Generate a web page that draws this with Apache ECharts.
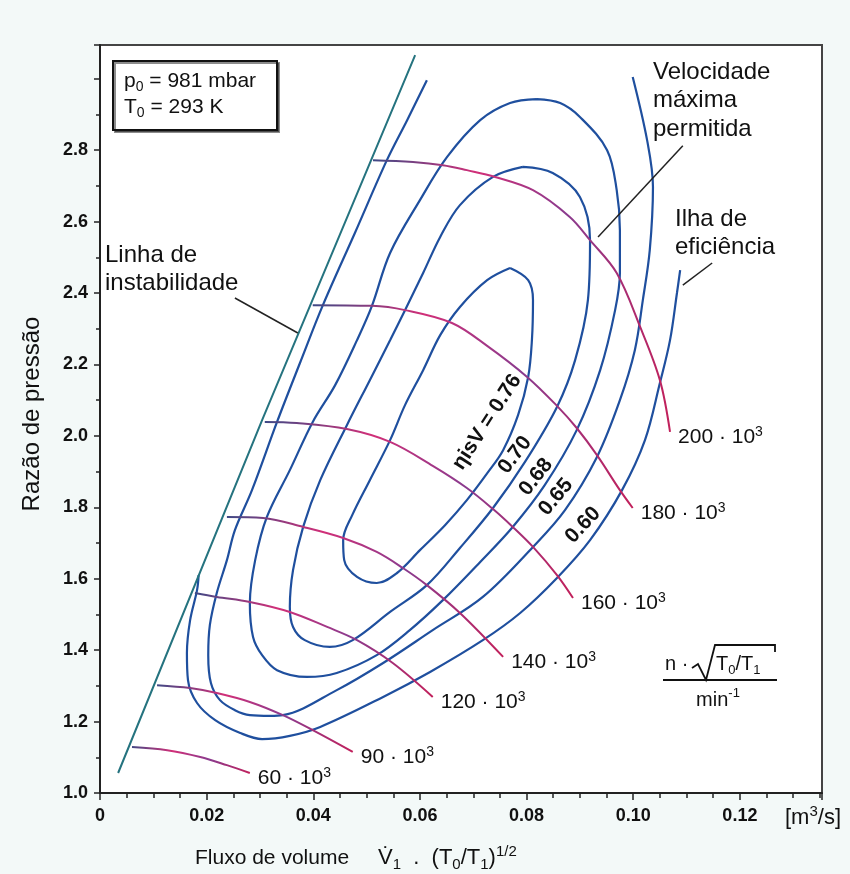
<!DOCTYPE html>
<html>
<head>
<meta charset="utf-8">
<title>Mapa do compressor</title>
<script src="https://cdn.jsdelivr.net/npm/echarts@6/dist/echarts.min.js"></script>
<style>
  html, body { margin: 0; padding: 0; background: #f3f9f8; }
  #chart { width: 850px; height: 874px; }
</style>
</head>
<body>
<div id="chart"></div>
<script>
// ticks com rótulo
const xTicks = [0, 0.02, 0.04, 0.06, 0.08, 0.10, 0.12];
const yTicks = [1.0, 1.2, 1.4, 1.6, 1.8, 2.0, 2.2, 2.4, 2.6, 2.8];

// linha de instabilidade (surge)
const surgeLine = [[0.0034, 1.056], [0.0304, 2.044], [0.0591, 3.066]];

// linhas de rotação constante  n·sqrt(T0/T1) [min-1]
const speeds = [60, 90, 120, 140, 160, 180, 200];
const n60 = [[0.0060, 1.129], [0.0126, 1.120], [0.0188, 1.101], [0.0238, 1.078], [0.0281, 1.056]];
const n90 = [[0.0107, 1.302], [0.0169, 1.294], [0.0219, 1.280], [0.0281, 1.255], [0.0343, 1.218], [0.0399, 1.176], [0.0474, 1.115]];
const n120 = [[0.0178, 1.560], [0.0219, 1.549], [0.0281, 1.535], [0.0356, 1.507], [0.0426, 1.465], [0.0482, 1.428], [0.0549, 1.364], [0.0624, 1.269]];
const n140 = [[0.0238, 1.773], [0.0306, 1.770], [0.0381, 1.745], [0.0456, 1.714], [0.0519, 1.675], [0.0568, 1.630], [0.0613, 1.582], [0.0675, 1.504], [0.0756, 1.381]];
const n160 = [[0.0309, 2.039], [0.0369, 2.036], [0.0463, 2.019], [0.0544, 1.983], [0.0624, 1.916], [0.0688, 1.854], [0.0737, 1.795], [0.0774, 1.745], [0.0812, 1.689], [0.0857, 1.610], [0.0887, 1.546]];
const n180 = [[0.0399, 2.366], [0.0510, 2.364], [0.0572, 2.352], [0.0660, 2.316], [0.0726, 2.252], [0.0801, 2.165], [0.0857, 2.084], [0.0894, 2.022], [0.0932, 1.946], [0.0975, 1.848], [0.0999, 1.798]];
const n200 = [[0.0512, 2.772], [0.0587, 2.767], [0.0643, 2.758], [0.0688, 2.744], [0.0741, 2.725], [0.0812, 2.688], [0.0881, 2.613], [0.0919, 2.548], [0.0969, 2.456], [0.1013, 2.305], [0.1050, 2.156], [0.1069, 2.011]];

// curvas de rendimento isentrópico
const eff76 = [[0.0769, 2.470], [0.0726, 2.436], [0.0675, 2.361], [0.0638, 2.282], [0.0606, 2.184], [0.0572, 2.086], [0.0544, 1.988], [0.0506, 1.876], [0.0473, 1.778], [0.0456, 1.708], [0.0458, 1.652], [0.0482, 1.605], [0.0519, 1.588], [0.0557, 1.616], [0.0600, 1.680], [0.0647, 1.750], [0.0688, 1.820], [0.0728, 1.899], [0.0756, 1.960], [0.0784, 2.058], [0.0803, 2.165], [0.0810, 2.268], [0.0812, 2.380], [0.0803, 2.436], [0.0769, 2.470]];
const eff70 = [[0.0793, 2.753], [0.0737, 2.725], [0.0675, 2.646], [0.0638, 2.557], [0.0606, 2.456], [0.0572, 2.352], [0.0544, 2.268], [0.0506, 2.156], [0.0463, 2.030], [0.0413, 1.876], [0.0381, 1.745], [0.0362, 1.624], [0.0356, 1.521], [0.0362, 1.465], [0.0384, 1.428], [0.0431, 1.409], [0.0474, 1.428], [0.0544, 1.507], [0.0613, 1.582], [0.0675, 1.686], [0.0737, 1.798], [0.0797, 1.927], [0.0857, 2.081], [0.0891, 2.212], [0.0915, 2.380], [0.0919, 2.548], [0.0900, 2.669], [0.0849, 2.736], [0.0793, 2.753]];
const eff68 = [[0.0819, 2.943], [0.0769, 2.932], [0.0713, 2.884], [0.0651, 2.781], [0.0600, 2.660], [0.0544, 2.512], [0.0510, 2.364], [0.0482, 2.268], [0.0441, 2.142], [0.0399, 2.039], [0.0356, 1.904], [0.0313, 1.773], [0.0291, 1.652], [0.0281, 1.532], [0.0287, 1.437], [0.0304, 1.386], [0.0332, 1.344], [0.0388, 1.325], [0.0444, 1.336], [0.0519, 1.386], [0.0581, 1.456], [0.0643, 1.540], [0.0713, 1.647], [0.0774, 1.745], [0.0834, 1.862], [0.0894, 2.016], [0.0938, 2.184], [0.0966, 2.352], [0.0975, 2.456], [0.0975, 2.576], [0.0969, 2.688], [0.0951, 2.800], [0.0900, 2.893], [0.0863, 2.932], [0.0819, 2.943]];
const eff65 = [[0.0613, 2.996], [0.0576, 2.884], [0.0538, 2.772], [0.0478, 2.568], [0.0418, 2.366], [0.0375, 2.204], [0.0332, 2.039], [0.0285, 1.848], [0.0253, 1.736], [0.0238, 1.652], [0.0219, 1.560], [0.0206, 1.470], [0.0203, 1.386], [0.0208, 1.308], [0.0225, 1.260], [0.0253, 1.232], [0.0281, 1.218], [0.0319, 1.216], [0.0343, 1.218], [0.0444, 1.288], [0.0531, 1.364], [0.0624, 1.456], [0.0718, 1.549], [0.0812, 1.689], [0.0872, 1.792], [0.0932, 1.941], [0.0975, 2.100], [0.1003, 2.240], [0.1018, 2.380], [0.1031, 2.520], [0.1037, 2.697], [0.1026, 2.828], [0.0999, 3.005]];
const eff60 = [[0.0185, 1.610], [0.0182, 1.568], [0.0169, 1.484], [0.0163, 1.392], [0.0165, 1.316], [0.0182, 1.252], [0.0216, 1.204], [0.0263, 1.168], [0.0304, 1.151], [0.0356, 1.160], [0.0413, 1.185], [0.0531, 1.269], [0.0619, 1.339], [0.0718, 1.428], [0.0788, 1.504], [0.0857, 1.602], [0.0919, 1.708], [0.0979, 1.848], [0.1022, 1.988], [0.1050, 2.148], [0.1069, 2.268], [0.1082, 2.400], [0.1088, 2.464]];

// setas das anotações
const arrowSurge = [[0.0253, 2.386], [0.0371, 2.288]];
const arrowMaxSpeed = [[0.1093, 2.812], [0.0934, 2.557]];
const arrowIsland = [[0.1148, 2.484], [0.1093, 2.422]];

const font = 'Liberation Sans, Arial, Helvetica, sans-serif';
const chart = echarts.init(document.getElementById('chart'));

const speedColor = {
  type: 'linear', x: 0, y: 0, x2: 1, y2: 0,
  colorStops: [
    { offset: 0, color: '#3b4a86' },
    { offset: 0.35, color: '#d12f78' },
    { offset: 0.65, color: '#8a3b8e' },
    { offset: 1, color: '#c3205a' }
  ]
};

function effSeries(name, data) {
  return {
    name: name, type: 'line', data: data, smooth: 0.35, symbol: 'none', silent: true,
    lineStyle: { color: '#1f4f9e', width: 2.2 }, z: 3
  };
}

const speedData = [n60, n90, n120, n140, n160, n180, n200];
const speedSeries = speedData.map((d, i) => ({
  name: speeds[i] + ' · 10³', type: 'line', data: d, smooth: 0.35, symbol: 'none', silent: true,
  lineStyle: { color: speedColor, width: 2 }, z: 4,
  endLabel: {
    show: true, distance: 8, offset: [0, 5],
    formatter: '{a|' + speeds[i] + ' · 10}{s|3}',
    rich: {
      a: { fontSize: 21, fontFamily: font, color: '#111', lineHeight: 24 },
      s: { fontSize: 14, fontFamily: font, color: '#111', lineHeight: 14, verticalAlign: 'top' }
    }
  }
}));

function arrow(data) {
  return {
    type: 'line', data: data, symbol: 'none', silent: true,
    lineStyle: { color: '#222', width: 1.5 }, z: 5
  };
}

const richBase = {
  t: { fontSize: 21, fontFamily: font, lineHeight: 26 },
  b: { fontSize: 14, fontFamily: font, lineHeight: 14, verticalAlign: 'bottom' },
  p: { fontSize: 13, fontFamily: font, lineHeight: 13, verticalAlign: 'top' }
};
const rich20 = {
  t: { fontSize: 20, fontFamily: font, lineHeight: 26 },
  b: { fontSize: 13, fontFamily: font, lineHeight: 13, verticalAlign: 'bottom' },
  p: { fontSize: 13, fontFamily: font, lineHeight: 13, verticalAlign: 'top' }
};
const rich22 = {
  t: { fontSize: 22, fontFamily: font, lineHeight: 28 },
  b: { fontSize: 15, fontFamily: font, lineHeight: 15, verticalAlign: 'bottom' },
  p: { fontSize: 15, fontFamily: font, lineHeight: 15, verticalAlign: 'top' }
};

function effLabel(text, x, y, deg) {
  return {
    type: 'text', x: x, y: y, rotation: deg * Math.PI / 180, z: 20,
    style: { text: text, font: 'bold 21px ' + font, fill: '#111', align: 'center', verticalAlign: 'middle' }
  };
}

function note(text, x, y) {
  return {
    type: 'text', x: x, y: y, z: 20,
    style: { text: text, font: '24px ' + font, lineHeight: 28.5, fill: '#111', align: 'left', verticalAlign: 'top' }
  };
}

chart.setOption({
  animation: false,
  grid: {
    left: 100, right: 28, top: 45, bottom: 81,
    show: true, backgroundColor: '#ffffff', borderColor: '#444', borderWidth: 2
  },
  xAxis: {
    type: 'value', min: 0, max: 0.1354, interval: 0.02,
    splitLine: { show: false },
    axisLine: { show: true, lineStyle: { color: '#222', width: 2 } },
    axisTick: { show: true, length: 7, lineStyle: { color: '#222', width: 1.5 } },
    minorTick: { show: true, splitNumber: 4, length: 5, lineStyle: { color: '#222', width: 1.5 } },
    axisLabel: {
      margin: 14, color: '#111', fontFamily: font, fontSize: 18, fontWeight: 'bold', showMaxLabel: false,
      formatter: v => xTicks.some(t => Math.abs(t - v) < 1e-9) ? (v === 0 ? '0' : v.toFixed(2)) : ''
    }
  },
  yAxis: {
    type: 'value', min: 1.0, max: 3.0944, interval: 0.2,
    name: 'Razão de pressão', nameLocation: 'middle', nameGap: 56,
    nameTextStyle: { fontSize: 24, fontFamily: font, color: '#111', padding: [0, 0, 0, 10] },
    splitLine: { show: false },
    axisLine: { show: true, lineStyle: { color: '#222', width: 2 } },
    axisTick: { show: true, length: 6, lineStyle: { color: '#222', width: 1.5 } },
    minorTick: { show: true, splitNumber: 2, length: 4, lineStyle: { color: '#222', width: 1.5 } },
    axisLabel: {
      margin: 12, color: '#111', fontFamily: font, fontSize: 18, fontWeight: 'bold', showMaxLabel: false,
      formatter: v => yTicks.some(t => Math.abs(t - v) < 1e-9) ? v.toFixed(1) : ''
    }
  },
  series: [
    {
      name: 'Linha de instabilidade', type: 'line', data: surgeLine, symbol: 'none', silent: true,
      lineStyle: { color: '#25737f', width: 2 }, z: 4
    },
    effSeries('0.60', eff60),
    effSeries('0.65', eff65),
    effSeries('0.68', eff68),
    effSeries('0.70', eff70),
    effSeries('0.76', eff76),
    ...speedSeries,
    arrow(arrowSurge),
    arrow(arrowMaxSpeed),
    arrow(arrowIsland)
  ],
  graphic: [
    {
      type: 'rect', z: 20, shape: { x: 113, y: 61, width: 164, height: 69 },
      style: { fill: '#fff', stroke: '#111', lineWidth: 2, shadowColor: 'rgba(0,0,0,0.45)', shadowOffsetX: 2, shadowOffsetY: 2 }
    },
    { type: 'text', x: 124, y: 81, z: 21, style: { text: '{t|p}{b|0}{t| = 981 mbar}', rich: richBase, fill: '#111', verticalAlign: 'middle' } },
    { type: 'text', x: 124, y: 107, z: 21, style: { text: '{t|T}{b|0}{t| = 293 K}', rich: richBase, fill: '#111', verticalAlign: 'middle' } },

    note('Velocidade\nmáxima\npermitida', 653, 58),
    note('Ilha de\neficiência', 675, 205),
    note('Linha de\ninstabilidade', 105, 241),

    effLabel('ηisV = 0.76', 487, 422, 57),
    effLabel('0.70', 515, 455, 53),
    effLabel('0.68', 536, 477, 52),
    effLabel('0.65', 556, 497, 50),
    effLabel('0.60', 583, 525, 47),

    // n·sqrt(T0/T1) / min-1
    { type: 'text', x: 665, y: 664, z: 21, style: { text: 'n ·', font: '20px ' + font, fill: '#111', verticalAlign: 'middle' } },
    {
      type: 'polyline', z: 21,
      shape: { points: [[692, 668], [698, 664], [706, 680], [715, 645], [775, 645], [775, 652]] },
      style: { stroke: '#111', lineWidth: 1.8, fill: null }
    },
    { type: 'text', x: 716, y: 664, z: 21, style: { text: '{t|T}{b|0}{t|/T}{b|1}', rich: rich20, fill: '#111', verticalAlign: 'middle' } },
    { type: 'line', z: 21, shape: { x1: 663, y1: 680, x2: 777, y2: 680 }, style: { stroke: '#111', lineWidth: 2 } },
    { type: 'text', x: 718, y: 700, z: 21, style: { text: '{t|min}{p|-1}', rich: rich20, fill: '#111', align: 'center', verticalAlign: 'middle' } },

    // nome do eixo x e unidade
    { type: 'text', x: 195, y: 858, z: 21, style: { text: '{t|Fluxo de volume}', rich: { t: { fontSize: 21, fontFamily: font, lineHeight: 28 } }, fill: '#111', verticalAlign: 'middle' } },
    { type: 'text', x: 378, y: 858, z: 21, style: { text: '{t|V\u0307}{b|1}{t|  .  (T}{b|0}{t|/T}{b|1}{t|)}{p|1/2}', rich: rich22, fill: '#111', verticalAlign: 'middle' } },
    { type: 'text', x: 785, y: 818, z: 21, style: { text: '{t|[m}{p|3}{t|/s]}', rich: rich22, fill: '#111', verticalAlign: 'middle' } }
  ]
});
</script>
</body>
</html>
